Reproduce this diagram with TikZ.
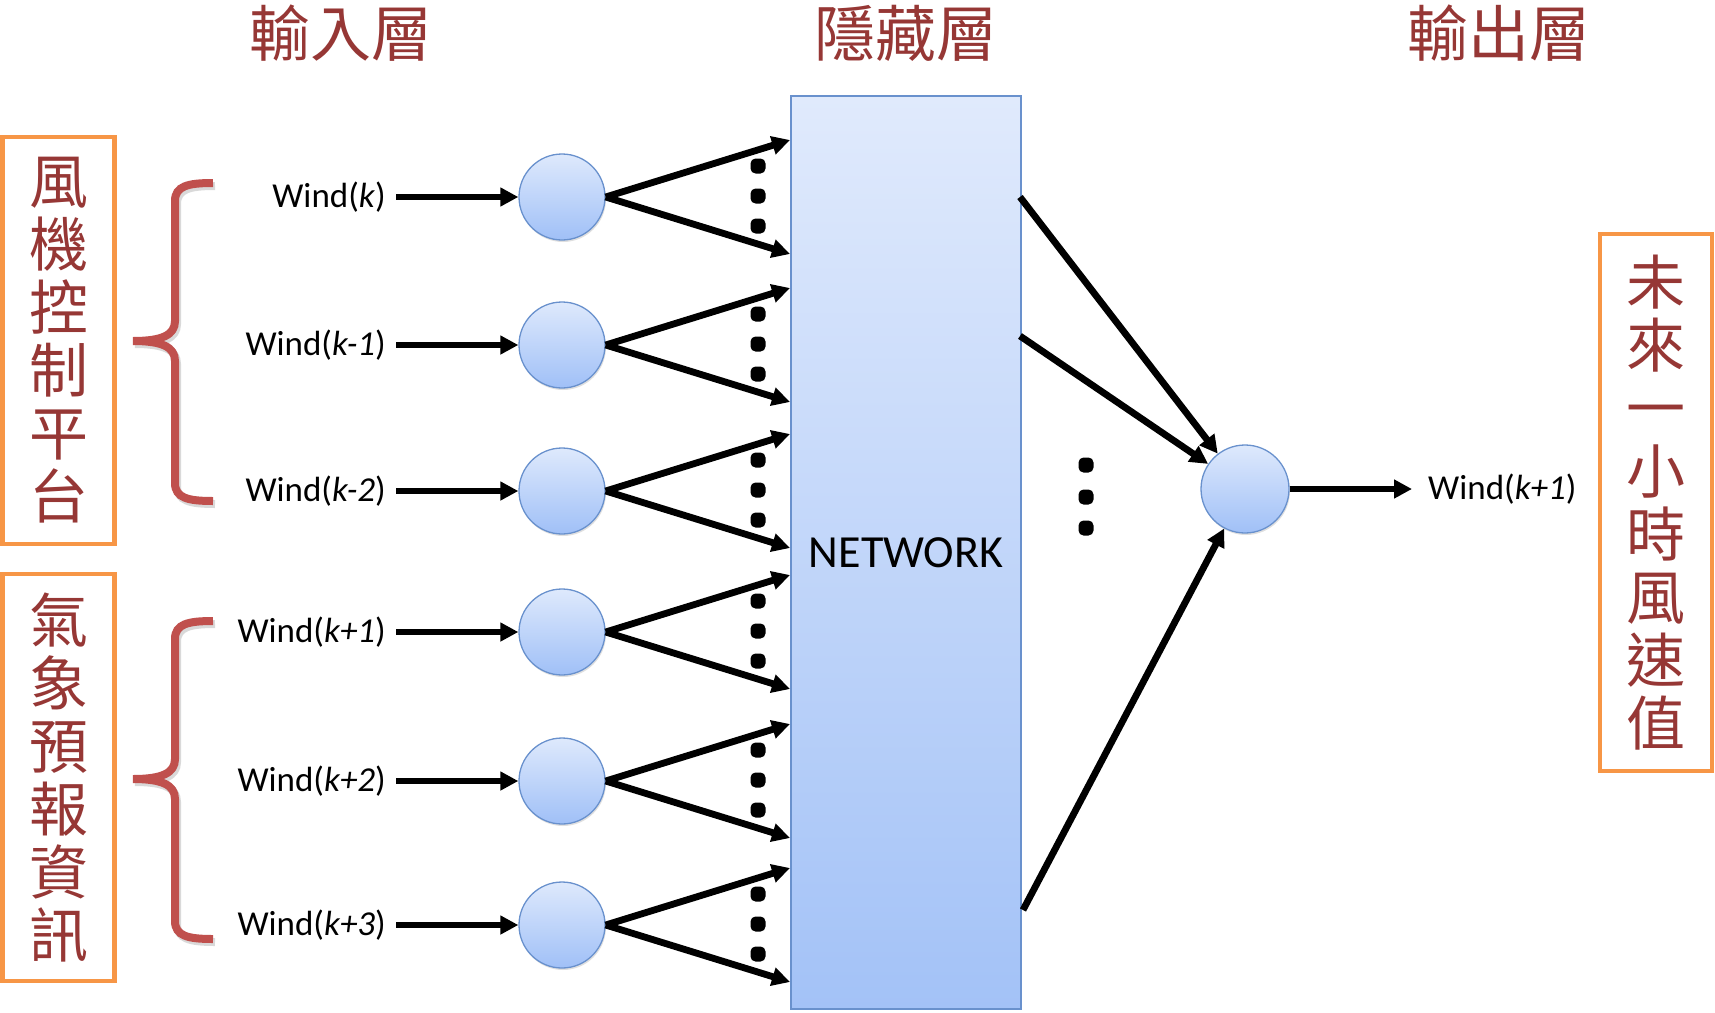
\documentclass[tikz,border=0pt]{standalone}
\usepackage{fontspec}
\setmainfont{Carlito}
\newfontfamily\cjk{Noto Sans CJK TC}
\usetikzlibrary{arrows.meta,shadows}
\definecolor{darkred}{RGB}{150,55,53}
\definecolor{orng}{RGB}{247,150,70}
\definecolor{bracecol}{RGB}{192,80,77}
\definecolor{ctop}{RGB}{222,233,252}
\definecolor{cbot}{RGB}{160,192,247}
\definecolor{cborder}{RGB}{105,145,205}
\definecolor{ntop}{RGB}{224,234,252}
\definecolor{nbot}{RGB}{163,194,247}
\begin{document}
\begin{tikzpicture}[x=1pt,y=-1pt,
  neuron/.style={circle, minimum size=86pt, inner sep=0pt, draw=cborder, line width=1.3pt,
    top color=ctop, bottom color=cbot,
    drop shadow={opacity=0.25, shadow xshift=1pt, shadow yshift=-2pt}},
  arr/.style={line width=6.8pt, -{Triangle[length=18pt,width=18pt]}},
  lbl/.style={inner sep=0pt, font=\fontsize{35}{40}\selectfont},
  titletxt/.style={inner sep=0pt, text=darkred, font=\cjk\fontsize{61}{63}\selectfont},
  sidebox/.style={draw=orng, line width=4.5pt, minimum width=112pt, inner sep=0pt, align=center,
    text=darkred, font=\cjk\fontsize{59}{63}\selectfont},
  bracepath/.style={draw=bracecol, line width=8pt},
  dotmark/.style={rectangle, fill=black, minimum size=15pt, inner sep=0pt, rounded corners=5pt}
]
\useasboundingbox (0,0) rectangle (1715,1012);

% titles
\node[titletxt] (tin) at (341,33) {輸入層};
\node[titletxt] (thid) at (906,33) {隱藏層};
\node[titletxt] (tout) at (1499,33) {輸出層};

% side boxes
\node[sidebox, minimum height=407pt] (box1) at (58.5,340.5) {風\\機\\控\\制\\平\\台};
\node[sidebox, minimum height=407pt] (box2) at (58.5,777.5) {氣\\象\\預\\報\\資\\訊};
\node[sidebox, minimum height=537pt] (box3) at (1656,502.5) {未\\來\\一\\小\\時\\風\\速\\值};

% braces (with faint shadow)
\foreach \t/\m/\b in {183/341/501, 621/779/939}{
  \draw[draw=black, opacity=0.15, line width=8pt, shift={(2pt,-3pt)}]
    (213,\t) .. controls (188,\t) and (175,\t+3) .. (175,\t+18) -- (175,\m-20)
    .. controls (175,\m-6) and (162,\m) .. (133,\m)
    .. controls (162,\m) and (175,\m+6) .. (175,\m+20) -- (175,\b-18)
    .. controls (175,\b-3) and (188,\b) .. (213,\b);
  \draw[bracepath]
    (213,\t) .. controls (188,\t) and (175,\t+3) .. (175,\t+18) -- (175,\m-20)
    .. controls (175,\m-6) and (162,\m) .. (133,\m)
    .. controls (162,\m) and (175,\m+6) .. (175,\m+20) -- (175,\b-18)
    .. controls (175,\b-3) and (188,\b) .. (213,\b);
}

% hidden network block
\node[draw=cborder, line width=1.3pt, top color=ntop, bottom color=nbot,
  minimum width=230pt, minimum height=913pt, inner sep=0pt,
  font=\fontsize{46}{50}\selectfont] (net) at (906,552.5) {NETWORK};

% inputs
\foreach \y/\lab [count=\i] in {197/{\textit{k}}, 345/{\textit{k-1}}, 491/{\textit{k-2}},
                               632/{\textit{k+1}}, 781/{\textit{k+2}}, 925/{\textit{k+3}}}{
  \node[lbl, anchor=east] (w\i) at (386,\y) {Wind(\lab)};
  \node[neuron] (n\i) at (562,\y) {};
  \draw[arr] ([xshift=10pt]w\i.east) -- (n\i);
  \coordinate (up\i) at (790,\y-57);
  \coordinate (dn\i) at (790,\y+57);
  \draw[arr] (n\i.east) -- (up\i);
  \draw[arr] (n\i.east) -- (dn\i);
  \node[dotmark] (da\i) at (758,\y-31) {};
  \node[dotmark] (db\i) at (758,\y-1) {};
  \node[dotmark] (dc\i) at (758,\y+29) {};
}

% output neuron
\node[neuron, minimum size=88pt] (out) at (1245,489) {};
\coordinate (h1) at (1020,197);
\coordinate (h2) at (1020,336);
\coordinate (h3) at (1023,910);
\draw[arr] (h1) -- (out);
\draw[arr] (h2) -- (out);
\draw[arr] (h3) -- (out);
\node[dotmark] (o1) at (1086,465) {};
\node[dotmark] (o2) at (1086,497) {};
\node[dotmark] (o3) at (1086,528) {};

\node[lbl, anchor=west] (wout) at (1428,489) {Wind(\textit{k+1})};
\draw[arr] (out.east) -- ([xshift=-16pt]wout.west);
\end{tikzpicture}
\end{document}
